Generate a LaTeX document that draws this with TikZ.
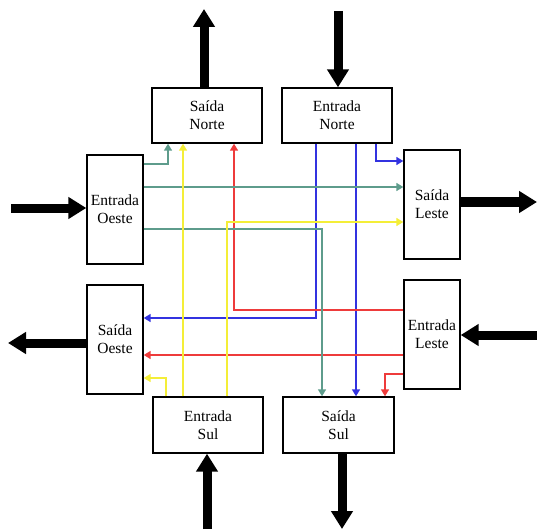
\documentclass[tikz,border=0pt]{standalone}
\usepackage{fontspec}
\setmainfont{Liberation Serif}
\usetikzlibrary{arrows.meta}
\definecolor{gr}{HTML}{5E9C8C}
\definecolor{ye}{HTML}{F4EE38}
\definecolor{rd}{HTML}{EE3B3B}
\definecolor{bl}{HTML}{3232E0}
\tikzset{
  box/.style={draw=black,line width=1.4pt,inner sep=0pt,align=center,
    font=\fontsize{15.5}{18}\selectfont},
  hbox/.style={box,minimum width=110pt,minimum height=55pt},
  vbox/.style={box,minimum width=56pt,minimum height=109pt},
  big/.style={line width=9pt,-{Triangle[length=18pt,width=21pt]}},
  lane/.style={line width=1.6pt,-{Triangle[length=7pt,width=8pt]}}
}
\begin{document}
\begin{tikzpicture}[x=1pt,y=-1pt]
\useasboundingbox (0,0) rectangle (537,529);
% boxes
\node[hbox] (sn) at (207,115.5) {Saída\\Norte};
\node[hbox] (en) at (337,115.5) {Entrada\\Norte};
\node[vbox] (eo) at (115,209.5) {Entrada\\Oeste};
\node[vbox] (sl) at (432,204.5) {Saída\\Leste};
\node[vbox] (so) at (115,339.5) {Saída\\Oeste};
\node[vbox] (el) at (432,334.5) {Entrada\\Leste};
\node[hbox,minimum height=56pt] (es) at (208,425) {Entrada\\Sul};
\node[hbox,minimum width=111pt,minimum height=56pt] (ss) at (338.5,425) {Saída\\Sul};
% free ends of big arrows
\coordinate (tSN) at (204,9);
\coordinate (tEN) at (338,11);
\coordinate (tEO) at (11,208);
\coordinate (tSL) at (537,202);
\coordinate (tSO) at (8,343);
\coordinate (tEL) at (537,335);
\coordinate (tES) at (207,529);
\coordinate (tSS) at (342,529);
% big arrows
\draw[big] (sn.north -| tSN) -- (tSN);
\draw[big] (tEN) -- (en.north -| tEN);
\draw[big] (tEO) -- (eo.west |- tEO);
\draw[big] (sl.east |- tSL) -- (tSL);
\draw[big] (so.west |- tSO) -- (tSO);
\draw[big] (tEL) -- (el.east |- tEL);
\draw[big] (tES) -- (es.south -| tES);
\draw[big] (ss.south -| tSS) -- (tSS);
% lanes: blue
\draw[lane,bl] (en.south -| 316,0) |- (so.east |- 0,318);
\draw[lane,bl] (en.south -| 356,0) -- (ss.north -| 356,0);
\draw[lane,bl] (en.south -| 376,0) |- (sl.west |- 0,161);
% lanes: red
\draw[lane,rd] (el.west |- 0,310) -| (sn.south -| 234,0);
\draw[lane,rd] (el.west |- 0,355) -- (so.east |- 0,355);
\draw[lane,rd] (el.west |- 0,374) -| (ss.north -| 385,0);
% lanes: green
\draw[lane,gr] (eo.east |- 0,164) -| (sn.south -| 168,0);
\draw[lane,gr] (eo.east |- 0,187) -- (sl.west |- 0,187);
\draw[lane,gr] (eo.east |- 0,229) -| (ss.north -| 322,0);
% lanes: yellow
\draw[lane,ye] (es.north -| 183,0) -- (sn.south -| 183,0);
\draw[lane,ye] (es.north -| 227,0) |- (sl.west |- 0,222);
\draw[lane,ye] (es.north -| 166,0) |- (so.east |- 0,378);
\end{tikzpicture}
\end{document}
